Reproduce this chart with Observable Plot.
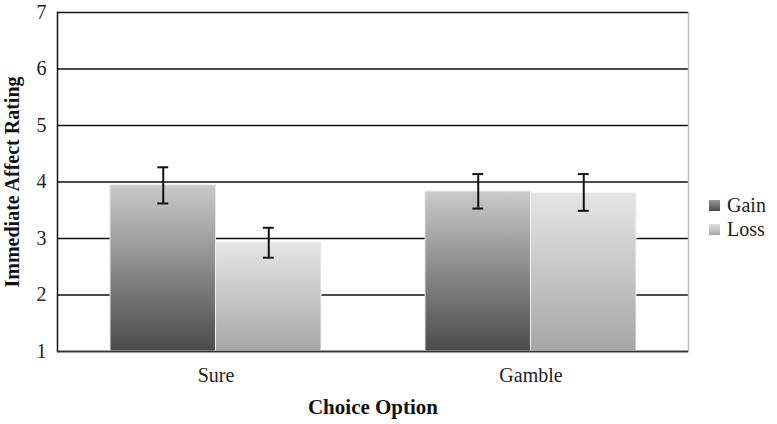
<!DOCTYPE html>
<html>
<head>
<meta charset="utf-8">
<script src="https://cdn.jsdelivr.net/npm/d3@7"></script>
<script src="https://cdn.jsdelivr.net/npm/@observablehq/plot@0.6"></script>
<style>
  body { margin: 0; background: #fff; }
  #wrap { position: relative; width: 777px; height: 424px; font-family: "Liberation Serif", "DejaVu Serif", serif; }
  #legend { position: absolute; left: 709px; top: 193px; font-size: 20px; color: #222; line-height: 24px; }
  #legend .row { display: flex; align-items: center; }
  #legend .sw { width: 11px; height: 11px; margin-right: 7px; }
</style>
</head>
<body>
<div id="wrap"></div>
<script>
const options = ["Sure", "Gamble"];
const seriesNames = ["Gain", "Loss"];
const gainMeans = [3.94, 3.83];
const gainLo = [3.62, 3.53];
const gainHi = [4.26, 4.14];
const lossMeans = [2.93, 3.81];
const lossLo = [2.66, 3.49];
const lossHi = [3.19, 4.14];
const yTicks = [1, 2, 3, 4, 5, 6, 7];

const gain = options.map((o, i) => ({option: o, series: "Gain", mean: gainMeans[i], lo: gainLo[i], hi: gainHi[i]}));
const loss = options.map((o, i) => ({option: o, series: "Loss", mean: lossMeans[i], lo: lossLo[i], hi: lossHi[i]}));

const W = 777, H = 424;
const mL = 57, mR = 89, mT = 12, mB = 73;
const padInner = 0.331;
const step = (W - mL - mR) / options.length;
const bw = step * (1 - padInner);
const half = bw / 2;
const off = bw / 4;
const capHalf = 5.5;

const plot = Plot.plot({
  width: W,
  height: H,
  marginLeft: mL, marginRight: mR, marginTop: mT, marginBottom: mB,
  style: {fontFamily: "'Liberation Serif', 'DejaVu Serif', serif", fontSize: "20px", color: "#222", background: "#fff"},
  x: {domain: options, paddingInner: padInner, paddingOuter: padInner / 2, label: null, tickSize: 0, tickPadding: 16},
  y: {domain: [1, 7], ticks: yTicks, tickSize: 0, tickPadding: 11, label: null, tickFormat: d3.format("d")},
  marks: [
    Plot.ruleY(yTicks, {stroke: "#111", strokeWidth: 1.5}),
    Plot.frame({anchor: "right", stroke: "#bbb", strokeWidth: 1.5}),
    Plot.frame({anchor: "left", stroke: "#111", strokeWidth: 1.5}),
    Plot.barY(gain, {x: "option", y1: 1, y2: "mean", fill: "url(#gainGrad)", insetRight: half, stroke: "#e6e6e6", strokeWidth: 1}),
    Plot.barY(loss, {x: "option", y1: 1, y2: "mean", fill: "url(#lossGrad)", insetLeft: half, stroke: "#f0f0f0", strokeWidth: 1}),
    Plot.ruleY([1], {stroke: "#333", strokeWidth: 1.5}),
    Plot.ruleX(gain, {x: "option", y1: "lo", y2: "hi", dx: -off, stroke: "#111", strokeWidth: 2}),
    Plot.ruleX(loss, {x: "option", y1: "lo", y2: "hi", dx: off, stroke: "#111", strokeWidth: 2}),
    Plot.tickY(gain, {x: "option", y: "lo", dx: -off, insetLeft: half - capHalf, insetRight: half - capHalf, stroke: "#111", strokeWidth: 2}),
    Plot.tickY(gain, {x: "option", y: "hi", dx: -off, insetLeft: half - capHalf, insetRight: half - capHalf, stroke: "#111", strokeWidth: 2}),
    Plot.tickY(loss, {x: "option", y: "lo", dx: off, insetLeft: half - capHalf, insetRight: half - capHalf, stroke: "#111", strokeWidth: 2}),
    Plot.tickY(loss, {x: "option", y: "hi", dx: off, insetLeft: half - capHalf, insetRight: half - capHalf, stroke: "#111", strokeWidth: 2}),
    Plot.text(["Choice Option"], {frameAnchor: "bottom", dy: 62, fontWeight: "bold", fontSize: 21, fill: "#111"}),
    Plot.text(["Immediate Affect Rating"], {frameAnchor: "left", textAnchor: "middle", dx: -45, rotate: -90, fontWeight: "bold", fontSize: 20, fill: "#111"})
  ]
});

const svg = d3.select(plot);
const defs = svg.insert("defs", ":first-child");
const g1 = defs.append("linearGradient").attr("id", "gainGrad").attr("x1", 0).attr("y1", 0).attr("x2", 0).attr("y2", 1);
g1.append("stop").attr("offset", "0%").attr("stop-color", "#cacaca");
g1.append("stop").attr("offset", "100%").attr("stop-color", "#4a4a4a");
const g2 = defs.append("linearGradient").attr("id", "lossGrad").attr("x1", 0).attr("y1", 0).attr("x2", 0).attr("y2", 1);
g2.append("stop").attr("offset", "0%").attr("stop-color", "#e6e6e6");
g2.append("stop").attr("offset", "100%").attr("stop-color", "#a6a6a6");

const wrap = document.getElementById("wrap");
wrap.appendChild(plot);

const legend = document.createElement("div");
legend.id = "legend";
const grads = {Gain: "linear-gradient(#9a9a9a, #4a4a4a)", Loss: "linear-gradient(#e0e0e0, #a8a8a8)"};
seriesNames.forEach(s => {
  const row = document.createElement("div");
  row.className = "row";
  const sw = document.createElement("span");
  sw.className = "sw";
  sw.style.background = grads[s];
  const t = document.createElement("span");
  t.textContent = s;
  row.appendChild(sw); row.appendChild(t);
  legend.appendChild(row);
});
wrap.appendChild(legend);
</script>
</body>
</html>
